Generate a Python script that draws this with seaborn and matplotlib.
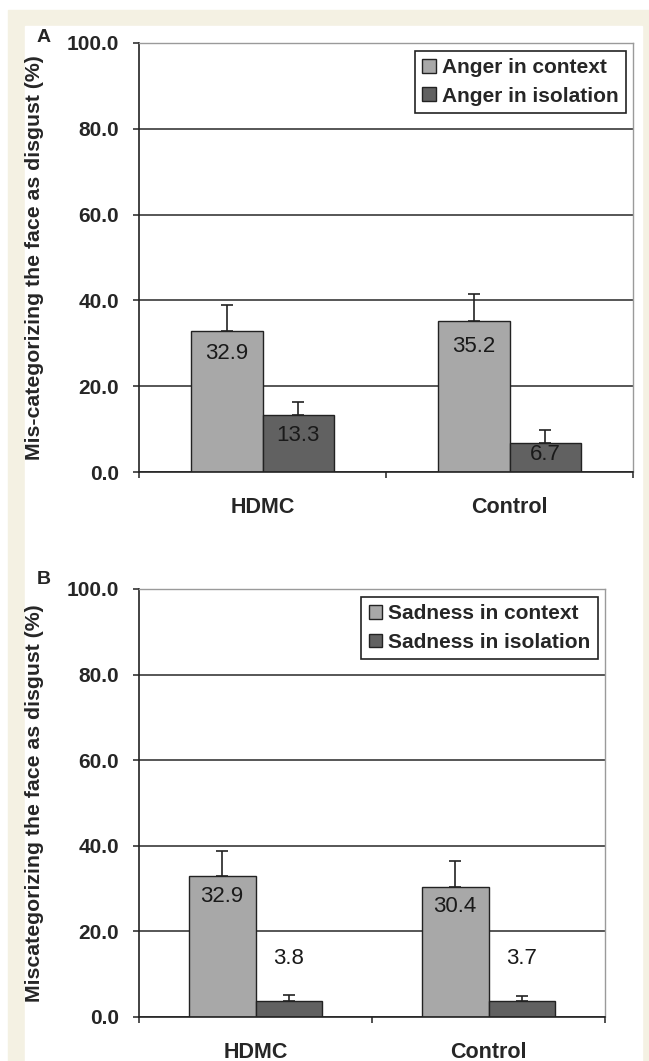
import matplotlib
matplotlib.use("Agg")
import matplotlib.pyplot as plt
from matplotlib.patches import Rectangle
from matplotlib.container import BarContainer
import seaborn as sns
import pandas as pd

# ---------------- data ----------------
groups = ["HDMC", "Control"]

a_labels = ["Anger in context", "Anger in isolation"]
a_context = [32.9, 35.2]
a_isolation = [13.3, 6.7]
a_context_err = [6.0, 6.2]
a_isolation_err = [3.1, 3.2]

b_labels = ["Sadness in context", "Sadness in isolation"]
b_context = [32.9, 30.4]
b_isolation = [3.8, 3.7]
b_context_err = [5.9, 6.0]
b_isolation_err = [1.3, 1.1]

y_ticks = [0, 20, 40, 60, 80, 100]

# ---------------- style ----------------
sns.set_style("white")
plt.rcParams["font.family"] = ["Liberation Sans", "DejaVu Sans"]

LIGHT = "#a8a8a8"
DARK = "#616161"
EDGE = "#222222"
GRID = "#3a3a3a"

W, H = 649, 1061
fig = plt.figure(figsize=(W / 100, H / 100), dpi=100)
fig.patch.set_facecolor("white")
fig.patches.append(Rectangle((8 / W, 0), (W - 8) / W, (H - 10) / H,
                             transform=fig.transFigure, color="#f4f1e3", zorder=-20))
fig.patches.append(Rectangle((25 / W, 0), (642 - 25) / W, (H - 26) / H,
                             transform=fig.transFigure, color="white", zorder=-19))


def panel(rect, letter, ylabel, labels, ctx, iso, ctx_err, iso_err, offsets, leg_anchor, ylab_x):
    ax = fig.add_axes(rect)
    df = pd.DataFrame({
        "group": groups * 2,
        "value": ctx + iso,
        "condition": [labels[0]] * len(groups) + [labels[1]] * len(groups),
    })
    sns.barplot(data=df, x="group", y="value", hue="condition", order=groups,
                hue_order=labels, palette=[LIGHT, DARK], saturation=1,
                width=0.575, errorbar=None, edgecolor=EDGE, linewidth=1.0, ax=ax)
    ax.set_ylim(0, 100)
    ax.set_xlim(-0.5, 1.5)
    ax.set_yticks(y_ticks)
    ax.set_yticklabels([f"{t:.1f}" for t in y_ticks], fontsize=15, fontweight="bold")
    ax.yaxis.grid(True, color=GRID, lw=1.2)
    ax.xaxis.grid(False)
    ax.set_axisbelow(True)
    ax.tick_params(axis="y", which="major", length=6 * 0.72, width=1.1, color=EDGE,
                   pad=10, direction="out", left=True)

    # x: ticks at category boundaries, labels centered
    ax.set_xticks([-0.5, 0.5, 1.5])
    ax.set_xticklabels(["", "", ""])
    ax.set_xticks([0, 1], minor=True)
    ax.set_xticklabels(groups, minor=True, fontsize=15.5, fontweight="bold")
    ax.tick_params(axis="x", which="major", length=6 * 0.72, width=1.1, color=EDGE,
                   direction="out", bottom=True)
    ax.tick_params(axis="x", which="minor", length=0, pad=18)
    ax.set_xlabel("")

    ax.set_ylabel(ylabel, fontsize=15.3, fontweight="bold")
    ax.yaxis.set_label_coords(ylab_x, 0.5)

    for side in ["top", "right"]:
        ax.spines[side].set_color("#9a9a9a")
        ax.spines[side].set_linewidth(1.0)
    for side in ["left", "bottom"]:
        ax.spines[side].set_color(EDGE)
        ax.spines[side].set_linewidth(1.2)

    errs = [ctx_err, iso_err]
    bar_conts = [c for c in ax.containers if isinstance(c, BarContainer)]
    for ci, cont in enumerate(bar_conts):
        xs = [b.get_x() + b.get_width() / 2 for b in cont]
        tops = [b.get_height() for b in cont]
        ax.errorbar(xs, tops, yerr=[[0] * len(tops), errs[ci]], fmt="none",
                    ecolor=EDGE, elinewidth=1.2, capsize=4.3, capthick=1.2, zorder=3)
        for xx, tt, off in zip(xs, tops, offsets[ci]):
            ax.annotate(f"{tt:.1f}", (xx, tt), xytext=(0, off),
                        textcoords="offset pixels", ha="center", va="center",
                        fontsize=16, color="#1a1a1a", zorder=4)

    handles, _ = ax.get_legend_handles_labels()
    leg = ax.legend(handles, labels, loc="upper right", bbox_to_anchor=leg_anchor,
                    borderaxespad=0, frameon=True, fancybox=False, edgecolor=EDGE,
                    framealpha=1, prop={"size": 15, "weight": "bold"},
                    handlelength=0.65, handleheight=0.65, handletextpad=0.3,
                    borderpad=0.35, labelspacing=0.45)
    leg.get_frame().set_linewidth(1.2)
    for h in leg.legend_handles:
        h.set_edgecolor(EDGE)
        h.set_linewidth(1.0)

    fig.text(44 / W, letter[1], letter[0], ha="center", va="center",
             fontsize=14, fontweight="bold")
    return ax


# panel A
panel([139 / W, 1 - 472 / H, 494 / W, 429 / H], ("A", 1 - 38 / H),
      "Mis-categorizing the face as disgust (%)", a_labels,
      a_context, a_isolation, a_context_err, a_isolation_err,
      offsets=[[-23, -26], [-21, -11]],
      leg_anchor=(0.9858, 0.9814), ylab_x=(44 - 139) / 494)

# panel B
panel([139 / W, 1 - 1017 / H, 466 / W, 428 / H], ("B", 1 - 580 / H),
      "Miscategorizing the face as disgust (%)", b_labels,
      b_context, b_isolation, b_context_err, b_isolation_err,
      offsets=[[-20, -20], [42, 43]],
      leg_anchor=(0.985, 0.981), ylab_x=(44 - 139) / 466)

fig.savefig("out.png", dpi=100, facecolor=fig.get_facecolor())
